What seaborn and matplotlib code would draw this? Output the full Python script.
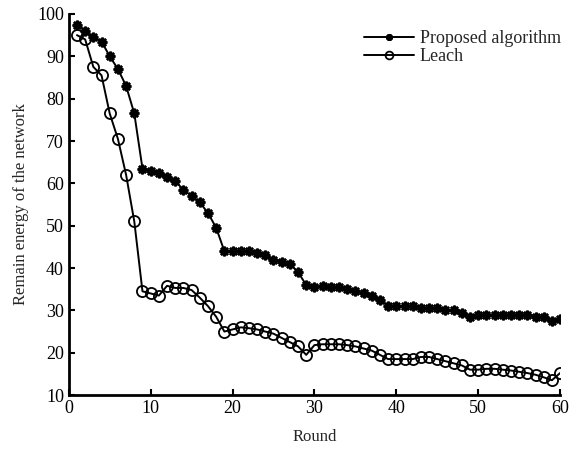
import numpy as np
import pandas as pd
import seaborn as sns
import matplotlib.pyplot as plt

# Rounds 1..60
rounds = list(range(1, 61))

# Remaining energy, proposed algorithm
proposed = [97.5, 96, 94.5, 93.5, 90, 87, 83, 76.5, 63.5, 63,
            62.5, 61.5, 60.5, 58.5, 57, 55.5, 53, 49.5, 44, 44,
            44, 44, 43.5, 43, 42, 41.5, 41, 39, 36, 35.5,
            35.8, 35.5, 35.5, 35, 34.5, 34, 33.5, 32.5, 31, 31,
            31, 31, 30.5, 30.5, 30.5, 30, 30, 29.5, 28.5, 29,
            29, 29, 29, 29, 29, 29, 28.5, 28.5, 27.5, 28]

# Remaining energy, Leach
leach = [95, 94, 87.5, 85.5, 76.5, 70.5, 62, 51, 34.5, 34,
         33.5, 35.8, 35.3, 35.3, 34.8, 33, 31, 28.5, 25, 25.5,
         26, 25.8, 25.5, 25, 24.5, 23.5, 22.5, 21.5, 19.5, 21.8,
         22, 22, 22, 21.8, 21.5, 21, 20.5, 19.5, 18.5, 18.5,
         18.5, 18.5, 19, 19, 18.5, 18, 17.5, 17, 16, 16,
         16.2, 16.2, 16, 15.8, 15.5, 15.2, 14.8, 14.2, 13.5, 15.2]

sns.set_style("ticks")
plt.rcParams['font.family'] = ['Liberation Serif', 'DejaVu Serif']

fig = plt.figure(figsize=(5.78, 4.51), dpi=100)
ax = fig.add_axes([0.119, 0.124, 0.85, 0.845])

sns.lineplot(x=rounds, y=proposed, ax=ax, color="black", lw=1.4,
             marker=(8, 2, 0), markersize=7, markeredgewidth=1.8,
             markeredgecolor="black", label="Proposed algorithm")
sns.lineplot(x=rounds, y=leach, ax=ax, color="black", lw=1.4,
             marker="o", markersize=8, markerfacecolor="none",
             markeredgewidth=1.3, markeredgecolor="black", label="Leach")

ax.set_xlim(0, 60)
ax.set_ylim(10, 100)
ax.set_xticks(range(0, 61, 10))
ax.set_yticks(range(10, 101, 10))
ax.tick_params(direction="in", length=4, width=1.5, labelsize=13, colors="black")
for s in ["left", "bottom"]:
    ax.spines[s].set_linewidth(2)
    ax.spines[s].set_color("black")
sns.despine(ax=ax)

ax.set_xlabel("Round", fontsize=12, labelpad=9)
ax.set_ylabel("Remain energy of the network", fontsize=12, labelpad=6)

ax.legend(loc="upper right", bbox_to_anchor=(1.035, 1.0), frameon=False,
          fontsize=13, handlelength=2.8, handletextpad=0.3,
          labelspacing=0.05, markerscale=0.7)

fig.savefig("out.png", dpi=100)
